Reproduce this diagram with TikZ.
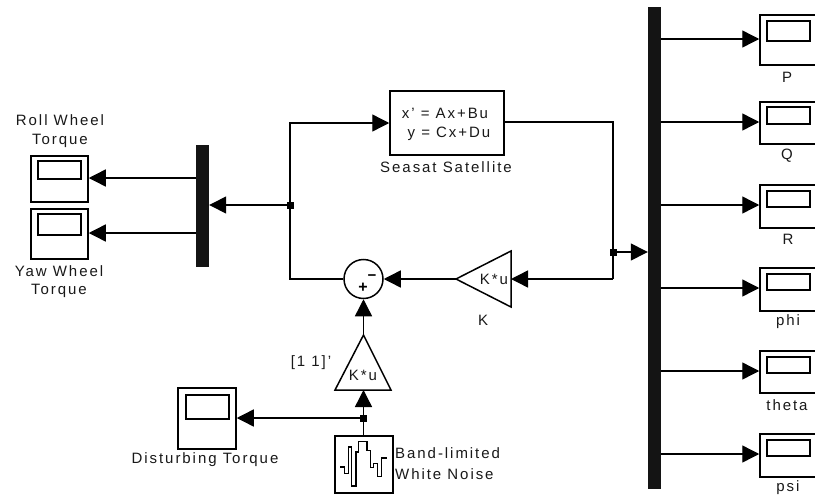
\documentclass[tikz,border=0pt]{standalone}
\usepackage{fontspec}
\setmainfont[LetterSpace=13]{Liberation Sans}
\usetikzlibrary{arrows.meta}
\tikzset{
  x=1pt,y=-1pt,
  blockline/.style={draw=black,line width=1.5pt},
  wire/.style={draw=black,line width=1.4pt},
  arrowwire/.style={wire,-{Triangle[length=17pt,width=17pt,fill=black]}},
  scopebox/.style={rectangle,draw=black,line width=1.5pt,fill=white,inner sep=0pt},
  scopescreen/.style={rectangle,draw=black,line width=1.5pt,inner sep=0pt,minimum width=43pt},
  muxbar/.style={rectangle,fill=black!92,inner sep=0pt,minimum width=13pt},
  junction/.style={rectangle,fill=black,inner sep=0pt,minimum size=7pt},
  lab/.style={inner sep=0pt,font=\fontsize{15}{17}\selectfont,text=black!90},
}
\begin{document}
\begin{tikzpicture}
\useasboundingbox (0,0) rectangle (815,501);
\clip (0,0) rectangle (815,501);
\fill[white] (0,0) rectangle (815,501);

% muxes
\node[muxbar,minimum height=122pt] (lmux) at (202.5,206) {};
\node[muxbar,minimum height=482pt] (rmux) at (654.5,248) {};

% left scopes
\node[scopebox,minimum width=57pt,minimum height=46pt] (sroll) at (59.5,179) {};
\node[scopescreen,minimum height=18pt] (srollin) at (59.5,170) {};
\node[scopebox,minimum width=57pt,minimum height=50pt] (syaw) at (59.5,234) {};
\node[scopescreen,minimum height=21pt] (syawin) at (59.5,224.5) {};
\node[lab] (lroll1) at (60,120) {Roll Wheel};
\node[lab] (lroll2) at (60,141) {Torque};
\node[lab] (lyaw1) at (59,271) {Yaw Wheel};
\node[lab] (lyaw2) at (59,291) {Torque};

% disturbance scope
\node[scopebox,minimum width=58pt,minimum height=61pt] (sdist) at (207,418.5) {};
\node[scopescreen,minimum height=24pt] (sdistin) at (207.5,407) {};
\node[lab] (ldist) at (205,460) {Disturbing Torque};

% right scopes
\node[scopebox,minimum width=60pt,minimum height=50pt] (sp) at (790,40) {};
\node[scopescreen,minimum height=20pt] (spin) at (788.5,31) {};
\node[lab] (lp) at (787,77) {P};
\node[scopebox,minimum width=60pt,minimum height=42pt] (sq) at (790,123) {};
\node[scopescreen,minimum height=17pt] (sqin) at (788.5,115.5) {};
\node[lab] (lq) at (787,156) {Q};
\node[scopebox,minimum width=60pt,minimum height=43pt] (sr) at (790,206.5) {};
\node[scopescreen,minimum height=16pt] (srin) at (788.5,199) {};
\node[lab] (lr) at (788,239) {R};
\node[scopebox,minimum width=60pt,minimum height=43pt] (sphi) at (790,289.5) {};
\node[scopescreen,minimum height=16pt] (sphiin) at (788.5,282) {};
\node[lab] (lphi) at (788,322) {phi};
\node[scopebox,minimum width=60pt,minimum height=42pt] (stheta) at (790,372) {};
\node[scopescreen,minimum height=16pt] (sthetain) at (788.5,365) {};
\node[lab] (ltheta) at (787,405) {theta};
\node[scopebox,minimum width=60pt,minimum height=43pt] (spsi) at (790,455.5) {};
\node[scopescreen,minimum height=16pt] (spsiin) at (788.5,448) {};
\node[lab] (lpsi) at (788,488) {psi};

% state space
\node[scopebox,minimum width=114pt,minimum height=64pt] (plant) at (447,123) {};
\node[lab] (eq1) at (445,113) {x' = Ax+Bu};
\node[lab] (eq2) at (449,134) {y = Cx+Du};
\node[lab] (lplant) at (446,167) {Seasat Satellite};

% sum
\node[circle,draw=black,line width=1.5pt,inner sep=0pt,minimum size=39pt] (sum) at (363.5,279) {};
\node[inner sep=0pt,font=\fontsize{15}{15}\selectfont\bfseries] (minus) at (372,278) {−};
\node[inner sep=0pt,font=\fontsize{16}{16}\selectfont\bfseries] (plus) at (363,288) {+};

% gains
\coordinate (kout) at (456,279);
\coordinate (kin) at (511,279);
\draw[blockline,line join=miter] (kout) -- (511,251) -- (511,307) -- cycle;
\node[lab] (ktext) at (494,279) {K*u};
\node[lab] (klab) at (483,320) {K};
\coordinate (dout) at (363.5,335);
\coordinate (din) at (363.5,390);
\draw[blockline,line join=miter] (dout) -- (391,390) -- (335,390) -- cycle;
\node[lab] (dtext) at (363,375) {K*u};
\node[lab] (dlab) at (311,363) {[1 1]'};

% noise
\node[scopebox,minimum width=58pt,minimum height=57pt] (noise) at (364,464.5) {};
\draw[black,line width=1.2pt,line join=miter]
  (340.3,467) -- (344.7,467) -- (344.7,473.7) -- (348.7,473.7) -- (348.7,447) -- (351.3,447) -- (351.3,486) -- (356,486) -- (356,452) -- (358.7,452) -- (358.7,441.3) -- (367,441.3) -- (367,450.3) -- (370.3,450.3) -- (370.3,467.7) -- (373.7,467.7) -- (373.7,463.7) -- (377.7,463.7) -- (377.7,476.3) -- (381.3,476.3) -- (381.3,458) -- (387,458);
\node[lab,anchor=west] (lband1) at (395,453) {Band-limited};
\node[lab,anchor=west] (lband2) at (395,474) {White Noise};

% junctions
\node[junction] (j1) at (290,205) {};
\node[junction] (j2) at (613,252) {};
\node[junction] (j3) at (363.5,418) {};
\coordinate (c1) at (290,279);
\coordinate (c2) at (613,122);
\coordinate (c3) at (613,279);

% connectors
\draw[wire] (sum.west) -- (c1) -- (j1.center);
\draw[arrowwire] (j1.center) |- (plant.west);
\draw[arrowwire] (j1.center) -- (lmux.east |- j1);
\draw[arrowwire] (lmux.west |- 0,178) -- (sroll.east |- 0,178);
\draw[arrowwire] (lmux.west |- 0,233) -- (syaw.east |- 0,233);
\draw[wire] (plant.east |- c2) -- (c2) -- (c3);
\draw[arrowwire] (c3) -- (kin);
\draw[arrowwire] (j2.center) -- (rmux.west |- j2);
\draw[arrowwire] (kout) -- (sum.east);
\draw[arrowwire] (dout) -- (sum.south);
\draw[arrowwire] (noise.north -| j3) -- (din);
\draw[arrowwire] (j3.center) -- (sdist.east |- j3);
\draw[arrowwire] (rmux.east |- 0,39) -- (sp.west |- 0,39);
\draw[arrowwire] (rmux.east |- 0,122) -- (sq.west |- 0,122);
\draw[arrowwire] (rmux.east |- 0,205) -- (sr.west |- 0,205);
\draw[arrowwire] (rmux.east |- 0,288) -- (sphi.west |- 0,288);
\draw[arrowwire] (rmux.east |- 0,371) -- (stheta.west |- 0,371);
\draw[arrowwire] (rmux.east |- 0,454) -- (spsi.west |- 0,454);
\end{tikzpicture}
\end{document}
